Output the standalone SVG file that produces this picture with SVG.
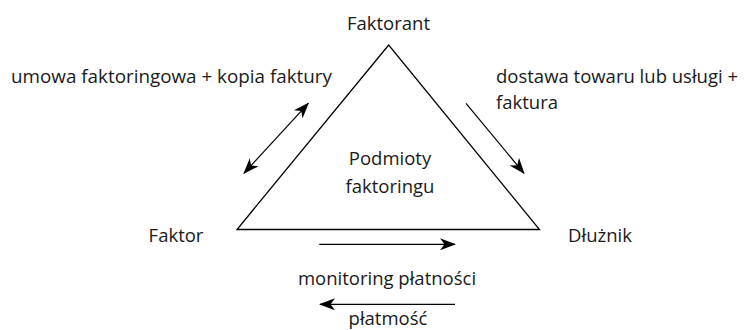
<svg xmlns="http://www.w3.org/2000/svg" width="744" height="330" viewBox="0 0 744 330">
<style>
text{font-family:"Open Sans","Liberation Sans",sans-serif;font-size:18.5px;fill:#1a1a1a}
.c{stroke:#000;stroke-width:1.2;fill:none}
</style>
<defs>
<marker id="ah" viewBox="0 0 16 12" refX="15" refY="6" markerWidth="16" markerHeight="12" markerUnits="userSpaceOnUse" orient="auto-start-reverse">
<path d="M0,0 L16,6 L0,12 L4.5,6 Z" fill="#000"/>
</marker>
</defs>
<rect width="744" height="330" fill="#fff"/>
<g id="triangle">
<path d="M388.7,45 L237,229.5 L539.5,229.5 Z" fill="none" stroke="#000" stroke-width="1.3" stroke-linejoin="miter"/>
<text x="390" y="165" text-anchor="middle">Podmioty</text>
<text x="390" y="193" text-anchor="middle">faktoringu</text>
</g>
<g id="faktorant"><text x="388.5" y="30" text-anchor="middle">Faktorant</text></g>
<g id="faktor"><text x="176" y="241.5" text-anchor="middle">Faktor</text></g>
<g id="dluznik"><text x="600" y="241.5" text-anchor="middle">Dłużnik</text></g>
<g id="connectors">
<line class="c" x1="244" y1="173.3" x2="308.3" y2="103.3" marker-start="url(#ah)" marker-end="url(#ah)"/>
<line class="c" x1="466" y1="103.3" x2="524" y2="173.3" marker-end="url(#ah)"/>
<line class="c" x1="319.3" y1="244.3" x2="455" y2="244.3" marker-end="url(#ah)"/>
<line class="c" x1="455" y1="304.3" x2="320" y2="304.3" marker-end="url(#ah)"/>
</g>
<g id="labels">
<text x="11" y="82.5" textLength="321" lengthAdjust="spacingAndGlyphs">umowa faktoringowa + kopia faktury</text>
<text x="496" y="82.5">dostawa towaru lub usługi +</text>
<text x="496" y="108.5">faktura</text>
<text x="387" y="285" text-anchor="middle">monitoring płatności</text>
<text x="388" y="325" text-anchor="middle">płatmość</text>
</g>
</svg>
